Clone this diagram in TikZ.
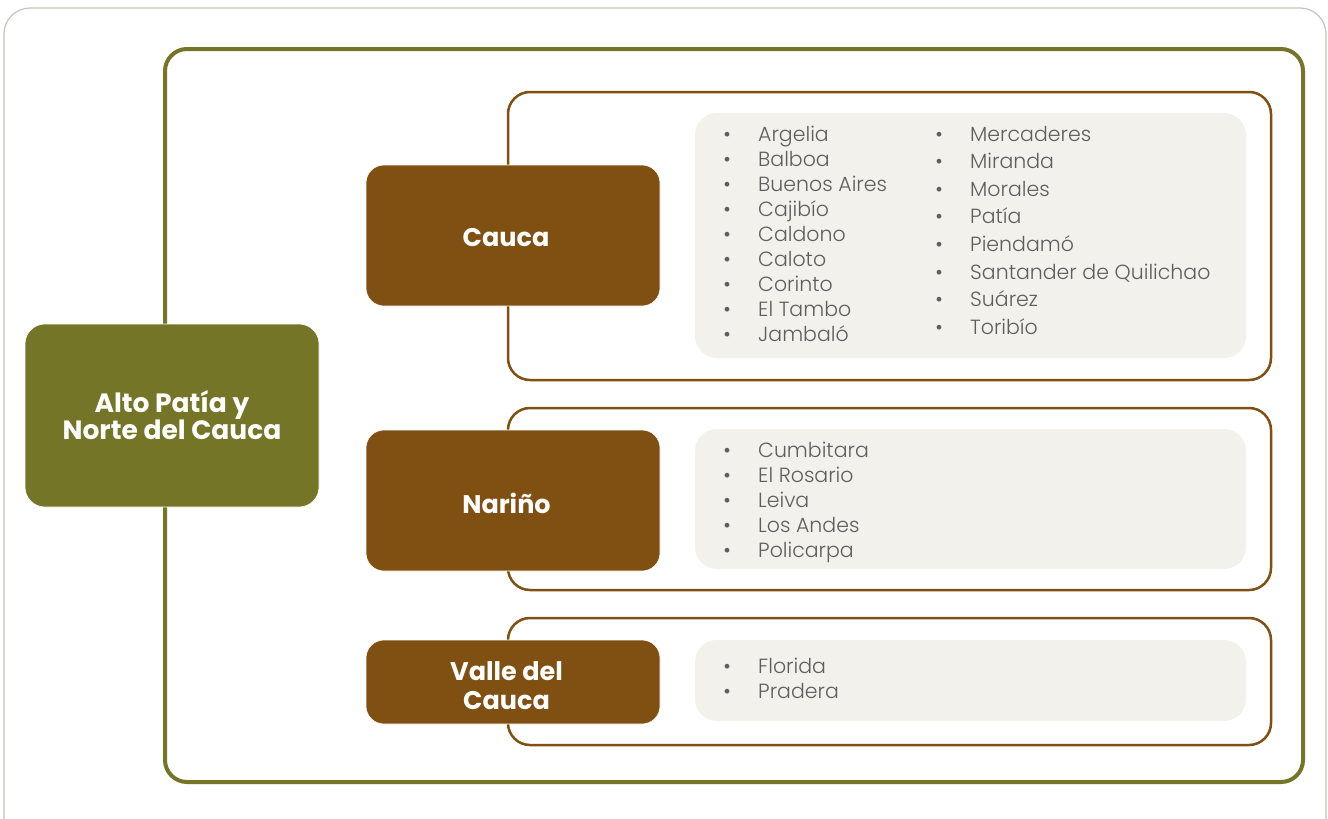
\documentclass[tikz,border=0pt]{standalone}
\usepackage{fontspec}
\setmainfont{Poppins}
\newfontfamily\listfont{Poppins Light}
\definecolor{olive}{HTML}{747527}
\definecolor{brownc}{HTML}{7F5012}
\definecolor{panelc}{HTML}{F2F1EC}
\definecolor{framegray}{HTML}{C4C4BC}
\definecolor{textc}{HTML}{5E5E5E}
\tikzset{
  rootbox/.style={fill=olive, draw=white, line width=0.6pt, rounded corners=20pt, minimum width=294pt, minimum height=183pt, inner sep=0pt},
  depbox/.style={fill=brownc, draw=white, line width=0.6pt, rounded corners=18pt, minimum width=294pt, inner sep=0pt},
  rootlabel/.style={text=white, align=center, inner sep=0pt, font=\bfseries\fontsize{26.5}{27}\selectfont},
  deplabel/.style={text=white, align=center, inner sep=0pt, font=\bfseries\fontsize{25.5}{29}\selectfont},
  brownframe/.style={draw=brownc, line width=2.5pt, rounded corners=22pt},
  greenframe/.style={draw=olive, line width=4pt, rounded corners=22pt},
  panelbox/.style={fill=panelc, rounded corners=22pt, minimum width=551pt, inner sep=0pt},
  item/.style={anchor=west, text=textc, inner sep=0pt, text height=14pt, text depth=0pt, font=\listfont\fontsize{20.5}{22}\selectfont},
  bul/.style={anchor=center, text=textc, inner sep=0pt, text height=14pt, text depth=0pt, font=\listfont\fontsize{20.5}{22}\selectfont},
}
\begin{document}
\begin{tikzpicture}[x=1pt,y=-1pt]
\useasboundingbox (0,0) rectangle (1328,819);
\fill[white] (0,0) rectangle (1328,819);
\begin{scope}
\clip (0,0) rectangle (1328,819);
\draw[framegray, line width=1.2pt, rounded corners=26pt] (4,860) -- (4,8) -- (1326,8) -- (1326,860);
\end{scope}
% green frame
\draw[greenframe] (165,49) rectangle (1303,782);
% brown frames
\draw[brownframe] (508,92) rectangle (1271,380);
\draw[brownframe] (508,408) rectangle (1271,590);
\draw[brownframe] (508,618) rectangle (1271,745);
% panels
\node[panelbox, minimum height=245pt] (pc) at (970.5,235.5) {};
\node[panelbox, minimum height=140pt] (pn) at (970.5,499) {};
\node[panelbox, minimum height=81pt] (pv) at (970.5,680.5) {};
% boxes
\node[rootbox] (root) at (172,415.5) {};
\node[rootlabel] (rootL) at (172,415) {Alto Patía y\\Norte del Cauca};
\node[depbox, minimum height=141pt] (cauca) at (513,235.5) {};
\node[deplabel] (caucaL) at (506,238) {Cauca};
\node[depbox, minimum height=141pt] (narino) at (513,500.5) {};
\node[deplabel] (narinoL) at (506.5,503) {Nariño};
\node[depbox, minimum height=84pt] (valle) at (513,682) {};
\node[deplabel] (valleL) at (506.5,685.5) {Valle del\\Cauca};
% lists
\foreach \t [count=\i from 0] in {Argelia, Balboa, Buenos Aires, Cajibío, Caldono, Caloto, Corinto, El Tambo, Jambaló}{
  \node[bul] (cab\i) at (727,134+25.1*\i) {\textbullet};
  \node[item] (cat\i) at (758,134+25.1*\i) {\t};
}
\foreach \t [count=\i from 0] in {Mercaderes, Miranda, Morales, Patía, Piendamó, Santander de Quilichao, Suárez, Toribío}{
  \node[bul] (cbb\i) at (939,134+27.6*\i) {\textbullet};
  \node[item] (cbt\i) at (970,134+27.6*\i) {\t};
}
\foreach \t [count=\i from 0] in {Cumbitara, El Rosario, Leiva, Los Andes, Policarpa}{
  \node[bul] (nb\i) at (727,450+25.2*\i) {\textbullet};
  \node[item] (nt\i) at (758,450+25.2*\i) {\t};
}
\foreach \t [count=\i from 0] in {Florida, Pradera}{
  \node[bul] (vb\i) at (727,666+25*\i) {\textbullet};
  \node[item] (vt\i) at (758,666+25*\i) {\t};
}
\end{tikzpicture}
\end{document}
